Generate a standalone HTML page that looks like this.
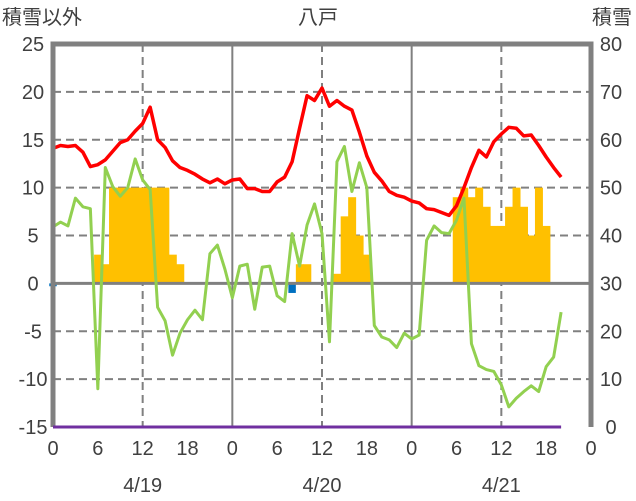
<!DOCTYPE html>
<html><head><meta charset="utf-8"><style>
body{margin:0;background:#fff;}
svg{display:block;font-family:"Liberation Sans","Noto Sans CJK JP",sans-serif;}
</style></head><body>
<svg id="chart" width="636" height="501"></svg>
<script>
const hours=[...Array(69).keys()];
const tempValues=[14.1,14.4,14.3,14.4,13.7,12.2,12.4,12.9,13.8,14.7,15.0,15.9,16.7,18.4,15.0,14.2,12.8,12.1,11.8,11.4,10.9,10.5,10.9,10.4,10.8,10.9,9.9,9.9,9.6,9.6,10.6,11.1,12.7,16.2,19.6,19.1,20.4,18.5,19.1,18.5,18.1,15.8,13.3,11.6,10.7,9.6,9.2,9.0,8.6,8.4,7.8,7.7,7.4,7.1,8.1,10.0,12.1,13.9,13.2,14.8,15.6,16.3,16.2,15.4,15.5,14.4,13.2,12.1,11.1];
const greenValues=[5.9,6.4,6.0,8.9,8.0,7.8,-11,12.1,10.1,9.1,10.0,13.0,10.8,9.8,-2.5,-3.9,-7.5,-5.2,-3.8,-2.8,-3.8,3.1,4.0,1.5,-1.5,1.8,2.0,-2.7,1.7,1.8,-1.3,-1.9,5.2,1.8,6.1,8.3,5.2,-6.1,12.7,14.3,9.6,12.6,10.0,-4.4,-5.6,-5.9,-6.7,-5.2,-5.8,-5.4,4.5,6.0,5.3,5.2,6.6,8.9,-6.3,-8.6,-9.0,-9.2,-10.6,-12.9,-12.0,-11.3,-10.7,-11.3,-8.7,-7.7,-3.0];
const snowHours=[6,7,8,9,10,11,12,13,14,15,16,17,33,34,38,39,40,41,42,54,55,56,57,58,59,60,61,62,63,64,65,66];
const snowDepth=[36,34,50,50,50,50,50,50,50,50,36,34,34,34,32,44,48,40,36,48,50,48,50,46,42,42,46,50,46,40,50,42];
const blueHours=[0,32];
const blueValues=[-0.3,-1];
const purpleValues=hours.map(()=>0);
const leftTicks=[25,20,15,10,5,0,-5,-10,-15];
const rightTicks=[80,70,60,50,40,30,20,10,0];
const xTickHours=[0,6,12,18,24,30,36,42,48,54,60,66,72];
const xTickLabels=["0","6","12","18","0","6","12","18","0","6","12","18","0"];
const dayLabels=["4/19","4/20","4/21"];
const dayCenters=[12,36,60];

const X0=53,X1=591,Y0=427,Y1=44;
const x=h=>X0+(X1-X0)*h/72;
const yL=v=>Y0-(v+15)/40*(Y0-Y1);
const yR=v=>Y0-v/80*(Y0-Y1);
const svg=document.getElementById('chart');
const NS='http://www.w3.org/2000/svg';
function mk(tag,attrs,parent){const e=document.createElementNS(NS,tag);for(const k in attrs)e.setAttribute(k,attrs[k]);(parent||svg).appendChild(e);return e;}
const g=mk('g',{});


leftTicks.forEach(v=>{if(v!==25&&v!==-15&&v!==0)mk('line',{x1:X0,x2:X1,y1:yL(v),y2:yL(v),stroke:'#808080','stroke-width':2,'stroke-dasharray':'8,5'},g);});
[12,36,60].forEach(h=>mk('line',{x1:x(h),x2:x(h),y1:Y1,y2:Y0,stroke:'#808080','stroke-width':2,'stroke-dasharray':'8,5'},g));
[24,48].forEach(h=>mk('line',{x1:x(h),x2:x(h),y1:Y1,y2:Y0,stroke:'#808080','stroke-width':2},g));
const bars=mk('g',{});


const bw=(X1-X0)/72;
snowHours.forEach((h,i)=>{const r=mk('rect',{x:x(h)-bw/2,y:Math.min(yR(snowDepth[i]),yR(30)),width:bw+0.5,height:Math.abs(yR(30)-yR(snowDepth[i])),fill:'#ffc000'},bars);

});
blueHours.forEach((h,i)=>{const r=mk('rect',{x:x(h)-bw/2,y:yL(0),width:bw,height:yL(blueValues[i])-yL(0),fill:'#0070c0'});

});
const zl=mk('line',{x1:X0,x2:X1,y1:yL(0),y2:yL(0),stroke:'#808080','stroke-width':3});


function line(vals,fn,color,w,name){const p=mk('polyline',{points:vals.map((v,i)=>x(hours[i])+','+fn(v)).join(' '),fill:'none',stroke:color,'stroke-width':w,'stroke-linejoin':'round'});

}
line(greenValues,yL,'#92d050',3,'green-series-line');
line(tempValues,yL,'#ff0000',3.5,'temperature-line');
const fr=mk('path',{d:`M${X0},${Y0} V${Y1} H${X1} V${Y0}`,fill:'none',stroke:'#808080','stroke-width':5});


line(purpleValues,yR,'#7030a0',3,'purple-series-line');
function txt(s,xx,yy,anchor,size,name){const t=mk('text',{x:xx,y:yy,'text-anchor':anchor,'font-size':size,fill:'#404040'});t.textContent=s;

return t;}
leftTicks.forEach(v=>txt(String(v),33,yL(v)+7,'middle',20,'left-tick-label'));
rightTicks.forEach(v=>txt(String(v),611,yR(v)+7,'middle',20,'right-tick-label'));
xTickHours.forEach((h,i)=>txt(xTickLabels[i],x(h),455,'middle',20,'x-tick-label'));
dayLabels.forEach((s,i)=>txt(s,x(dayCenters[i]),492,'middle',20,'date-label'));
txt('八戸',318,24,'middle',20,'chart-title');
txt('積雪以外',2,24,'start',20,'left-axis-title');
txt('積雪',632,24,'end',20,'right-axis-title');
</script>
</body></html>
